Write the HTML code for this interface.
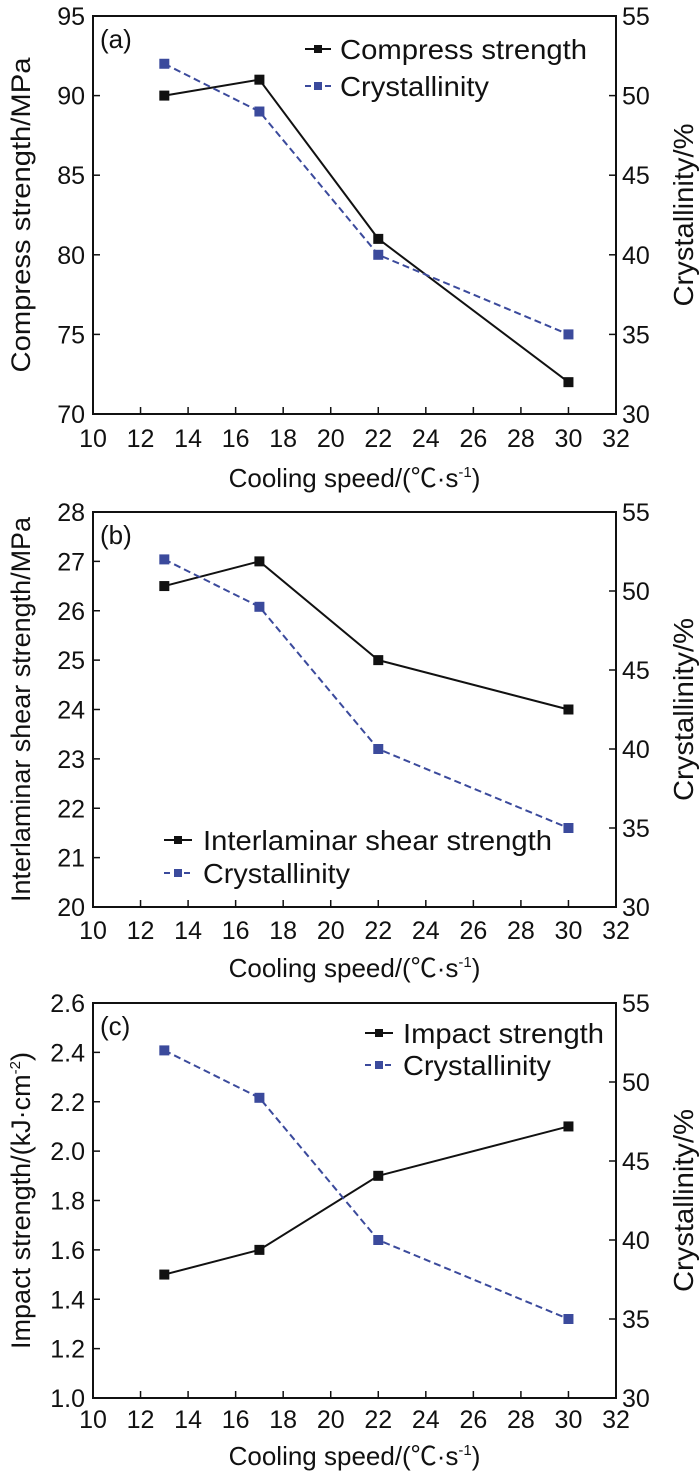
<!DOCTYPE html>
<html><head><meta charset="utf-8"><style>
html,body{margin:0;padding:0;background:#fff;}
svg text{font-family:"Liberation Sans","Noto Sans CJK SC",sans-serif;fill:#111;}
</style></head><body>
<svg id="chart" width="700" height="1472" viewBox="0 0 700 1472" xmlns="http://www.w3.org/2000/svg"></svg>
<script>
const coolingSpeeds=[13,17,22,30];
const crystallinity=[52,49,40,35];
const compressStrength=[90,91,81,72];
const shearStrength=[26.5,27,25,24];
const impactStrength=[1.5,1.6,1.9,2.1];
const xTicks=[10,12,14,16,18,20,22,24,26,28,30,32];
const rightTicks=[30,35,40,45,50,55];
const ticksA=[70,75,80,85,90,95];
const ticksB=[20,21,22,23,24,25,26,27,28];
const ticksC=[1.0,1.2,1.4,1.6,1.8,2.0,2.2,2.4,2.6];

const NS='http://www.w3.org/2000/svg';
const svg=document.getElementById('chart');
function mk(tag,attrs,parent,text){const e=document.createElementNS(NS,tag);for(const k in attrs)e.setAttribute(k,attrs[k]);if(text!==undefined)e.textContent=text;(parent||svg).appendChild(e);return e;}

const X0=93,X1=616;
function panel(id,top,bot,leftTicks,leftFmt,leftTitle,leftLen,series,legend,letter,tickOff,titleOff){
  const g=mk('g',{});
  
  
  const lmin=leftTicks[0],lmax=leftTicks[leftTicks.length-1];
  const xs=v=>X0+(v-10)/(32-10)*(X1-X0);
  const yl=v=>bot-(v-lmin)/(lmax-lmin)*(bot-top);
  const yr=v=>bot-(v-30)/(55-30)*(bot-top);
  const frame=mk('rect',{x:X0,y:top,width:X1-X0,height:bot-top,fill:'none',stroke:'#111','stroke-width':2},g);
  
  
  xTicks.forEach(t=>{
    const x=xs(t);
    mk('line',{x1:x,x2:x,y1:bot,y2:bot-7,stroke:'#111','stroke-width':1.5},g);
    const tx=mk('text',{x:x,y:bot+tickOff,'font-size':25,'text-anchor':'middle'},g,String(t));
    
    
  });
  leftTicks.forEach(t=>{
    const y=yl(t);
    mk('line',{x1:X0,x2:X0+7,y1:y,y2:y,stroke:'#111','stroke-width':1.5},g);
    const tx=mk('text',{x:85,y:y+9,'font-size':25,'text-anchor':'end'},g,leftFmt(t));
    
    
  });
  rightTicks.forEach(t=>{
    const y=yr(t);
    mk('line',{x1:X1,x2:X1-7,y1:y,y2:y,stroke:'#111','stroke-width':1.5},g);
    const tx=mk('text',{x:622,y:y+9,'font-size':25},g,String(t));
    
    
  });
  const xt=mk('text',{x:(X0+X1)/2,y:bot+titleOff,'font-size':26,'text-anchor':'middle'},g,'Cooling speed/(℃·s');
  mk('tspan',{'font-size':15,dy:-10},xt,'-1');
  mk('tspan',{dy:10},xt,')');
  
  
  const cy=(top+bot)/2;
  const lt=mk('text',{x:0,y:0,'font-size':27,'text-anchor':'middle',transform:`translate(30,${cy}) rotate(-90)`},g);
  leftTitle(lt);
  if(leftLen){lt.setAttribute('textLength',leftLen);lt.setAttribute('lengthAdjust','spacingAndGlyphs');}
  
  
  const rt=mk('text',{x:0,y:0,'font-size':28,'text-anchor':'middle',textLength:183,lengthAdjust:'spacingAndGlyphs',transform:`translate(693,${cy}) rotate(-90)`},g,'Crystallinity/%');
  
  
  const lb=mk('text',{x:100,y:top+32,'font-size':26},g,'('+letter+')');
  
  
  const strengthVals=series;
  const pts1=coolingSpeeds.map((c,i)=>xs(c)+','+yl(strengthVals[i])).join(' ');
  const l1=mk('polyline',{points:pts1,fill:'none',stroke:'#111','stroke-width':2},g);
  
  
  const pts2=coolingSpeeds.map((c,i)=>xs(c)+','+yr(crystallinity[i])).join(' ');
  const l2=mk('polyline',{points:pts2,fill:'none',stroke:'#3b4a9c','stroke-width':2,'stroke-dasharray':'7,4'},g);
  
  
  coolingSpeeds.forEach((c,i)=>{
    const m=mk('rect',{x:xs(c)-5,y:yl(strengthVals[i])-5,width:10,height:10,fill:'#111'},g);
    
    
    const n=mk('rect',{x:xs(c)-5,y:yr(crystallinity[i])-5,width:10,height:10,fill:'#3b4a9c'},g);
    
    
  });
  const L=legend;
  const lg=mk('g',{},g);
  
  
  mk('line',{x1:L.x1,x2:L.x2,y1:L.y1,y2:L.y1,stroke:'#111','stroke-width':2},lg);
  mk('rect',{x:(L.x1+L.x2)/2-4,y:L.y1-4,width:8,height:8,fill:'#111'},lg);
  const t1=mk('text',{x:L.tx,y:L.y1+10,'font-size':28,textLength:L.w1,lengthAdjust:'spacingAndGlyphs'},lg,L.name);
  
  
  mk('line',{x1:L.x1,x2:L.x2,y1:L.y2,y2:L.y2,stroke:'#3b4a9c','stroke-width':2,'stroke-dasharray':'6,4'},lg);
  mk('rect',{x:(L.x1+L.x2)/2-4,y:L.y2-4,width:8,height:8,fill:'#3b4a9c'},lg);
  const t2=mk('text',{x:L.tx,y:L.y2+10,'font-size':28,textLength:L.w2,lengthAdjust:'spacingAndGlyphs'},lg,'Crystallinity');
  
  
}
panel('a',16,414,ticksA,v=>String(v),t=>{t.textContent='Compress strength/MPa';},315,compressStrength,
  {x1:305,x2:331,y1:49,y2:86,tx:340,w1:247,w2:149,name:'Compress strength'},'a',33,73);
panel('b',512,907,ticksB,v=>String(v),t=>{t.textContent='Interlaminar shear strength/MPa';},385,shearStrength,
  {x1:164,x2:192,y1:840,y2:873,tx:203,w1:349,w2:147,name:'Interlaminar shear strength'},'b',32,70);
panel('c',1003,1398,ticksC,v=>v.toFixed(1),t=>{t.textContent='Impact strength/(kJ·cm';mk('tspan',{'font-size':15,dy:-10},t,'-2');mk('tspan',{dy:10},t,')');},0,impactStrength,
  {x1:365,x2:393,y1:1033,y2:1065,tx:403,w1:201,w2:148,name:'Impact strength'},'c',30,67);
</script>
</body></html>
